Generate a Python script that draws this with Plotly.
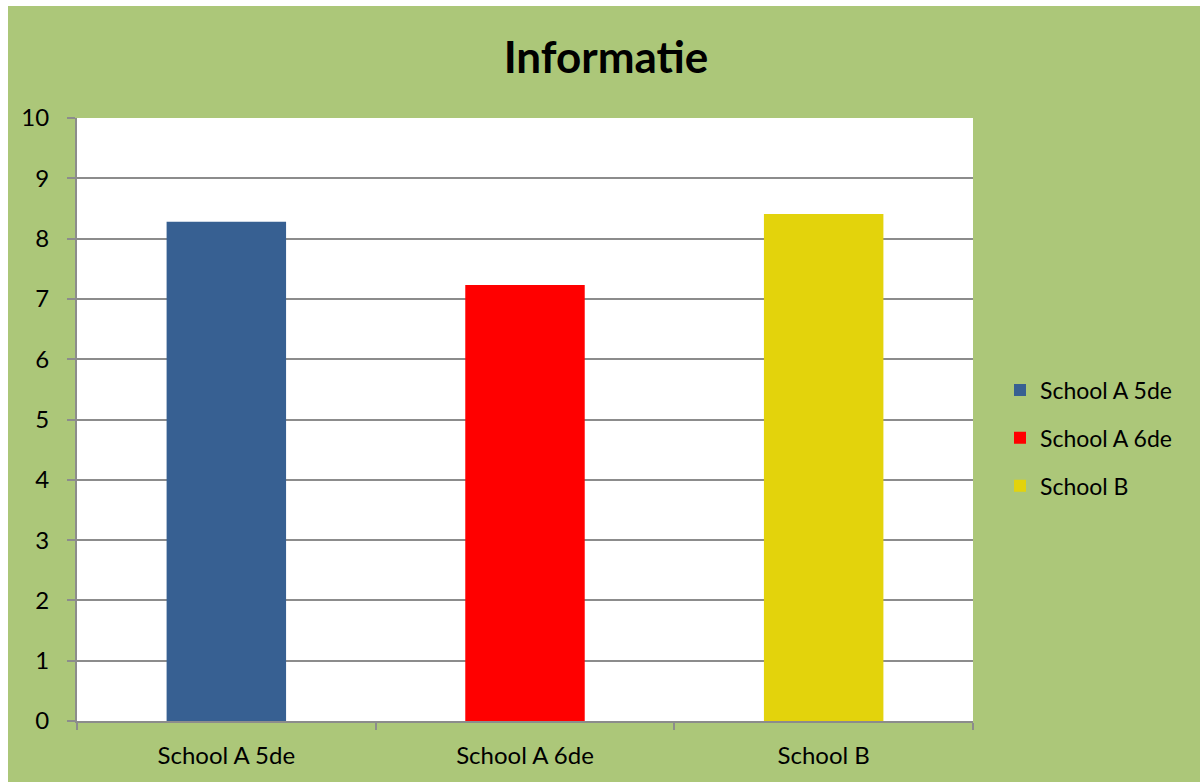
import plotly.graph_objects as go

# Scores per group
categories = ["School A 5de", "School A 6de", "School B"]
scores = [8.28, 7.23, 8.41]
colors = ["#376092", "#FF0000", "#E3D30C"]
y_ticks = list(range(0, 11))

GREEN = "#ACC779"
GRID = "#8C8C8C"
FONT = "Lato"

fig = go.Figure()
for cat, val, col in zip(categories, scores, colors):
    fig.add_trace(go.Bar(
        x=[cat], y=[val], name=cat, width=0.4,
        marker=dict(color=col, line=dict(width=0)),
        legendgroup=cat,
    ))

W, H = 1200, 782
L, R, T, B = 77, 227, 118, 61
pw, ph = W - L - R, H - T - B

fig.update_layout(
    width=W, height=H,
    margin=dict(l=L, r=R, t=T, b=B, autoexpand=False),
    paper_bgcolor=GREEN,
    plot_bgcolor="white",
    barmode="overlay",
    font=dict(family=FONT, size=24, color="black"),
    title=dict(text="<b>Informatie</b>", x=0.505, xanchor="center",
               y=1 - 58 / H, yanchor="middle",
               font=dict(family=FONT, size=44, color="black")),
    legend=dict(x=(1000 - L) / pw, xanchor="left", y=(721 - 438) / ph, yanchor="middle",
                bgcolor="rgba(0,0,0,0)", tracegroupgap=15,
                font=dict(family=FONT, size=23), itemwidth=30),
    xaxis=dict(categoryorder="array", categoryarray=categories,
               showgrid=False, showline=True, linecolor=GRID, linewidth=2,
               ticks="outside", tickson="boundaries", ticklen=7, tickcolor=GRID,
               tickwidth=2, ticklabelstandoff=12, fixedrange=True),
    yaxis=dict(range=[0, 10], tickvals=y_ticks, showgrid=True, gridcolor=GRID,
               gridwidth=1.5, showline=True, linecolor=GRID, linewidth=2,
               zeroline=False, ticks="outside", ticklen=8, tickcolor=GRID,
               tickwidth=2, ticklabelstandoff=13, fixedrange=True),
)

# thin white strips along the top and left edges of the page
top_y1 = (H - B) / ph
fig.add_shape(type="rect", xref="paper", yref="paper", layer="above",
              x0=-L / pw, x1=(W - L) / pw, y0=(H - B - 6) / ph, y1=top_y1,
              fillcolor="white", line=dict(width=0))
fig.add_shape(type="rect", xref="paper", yref="paper", layer="above",
              x0=-L / pw, x1=(8 - L) / pw, y0=-B / ph, y1=top_y1,
              fillcolor="white", line=dict(width=0))

fig.write_html("out.html", config=dict(displayModeBar=False))
